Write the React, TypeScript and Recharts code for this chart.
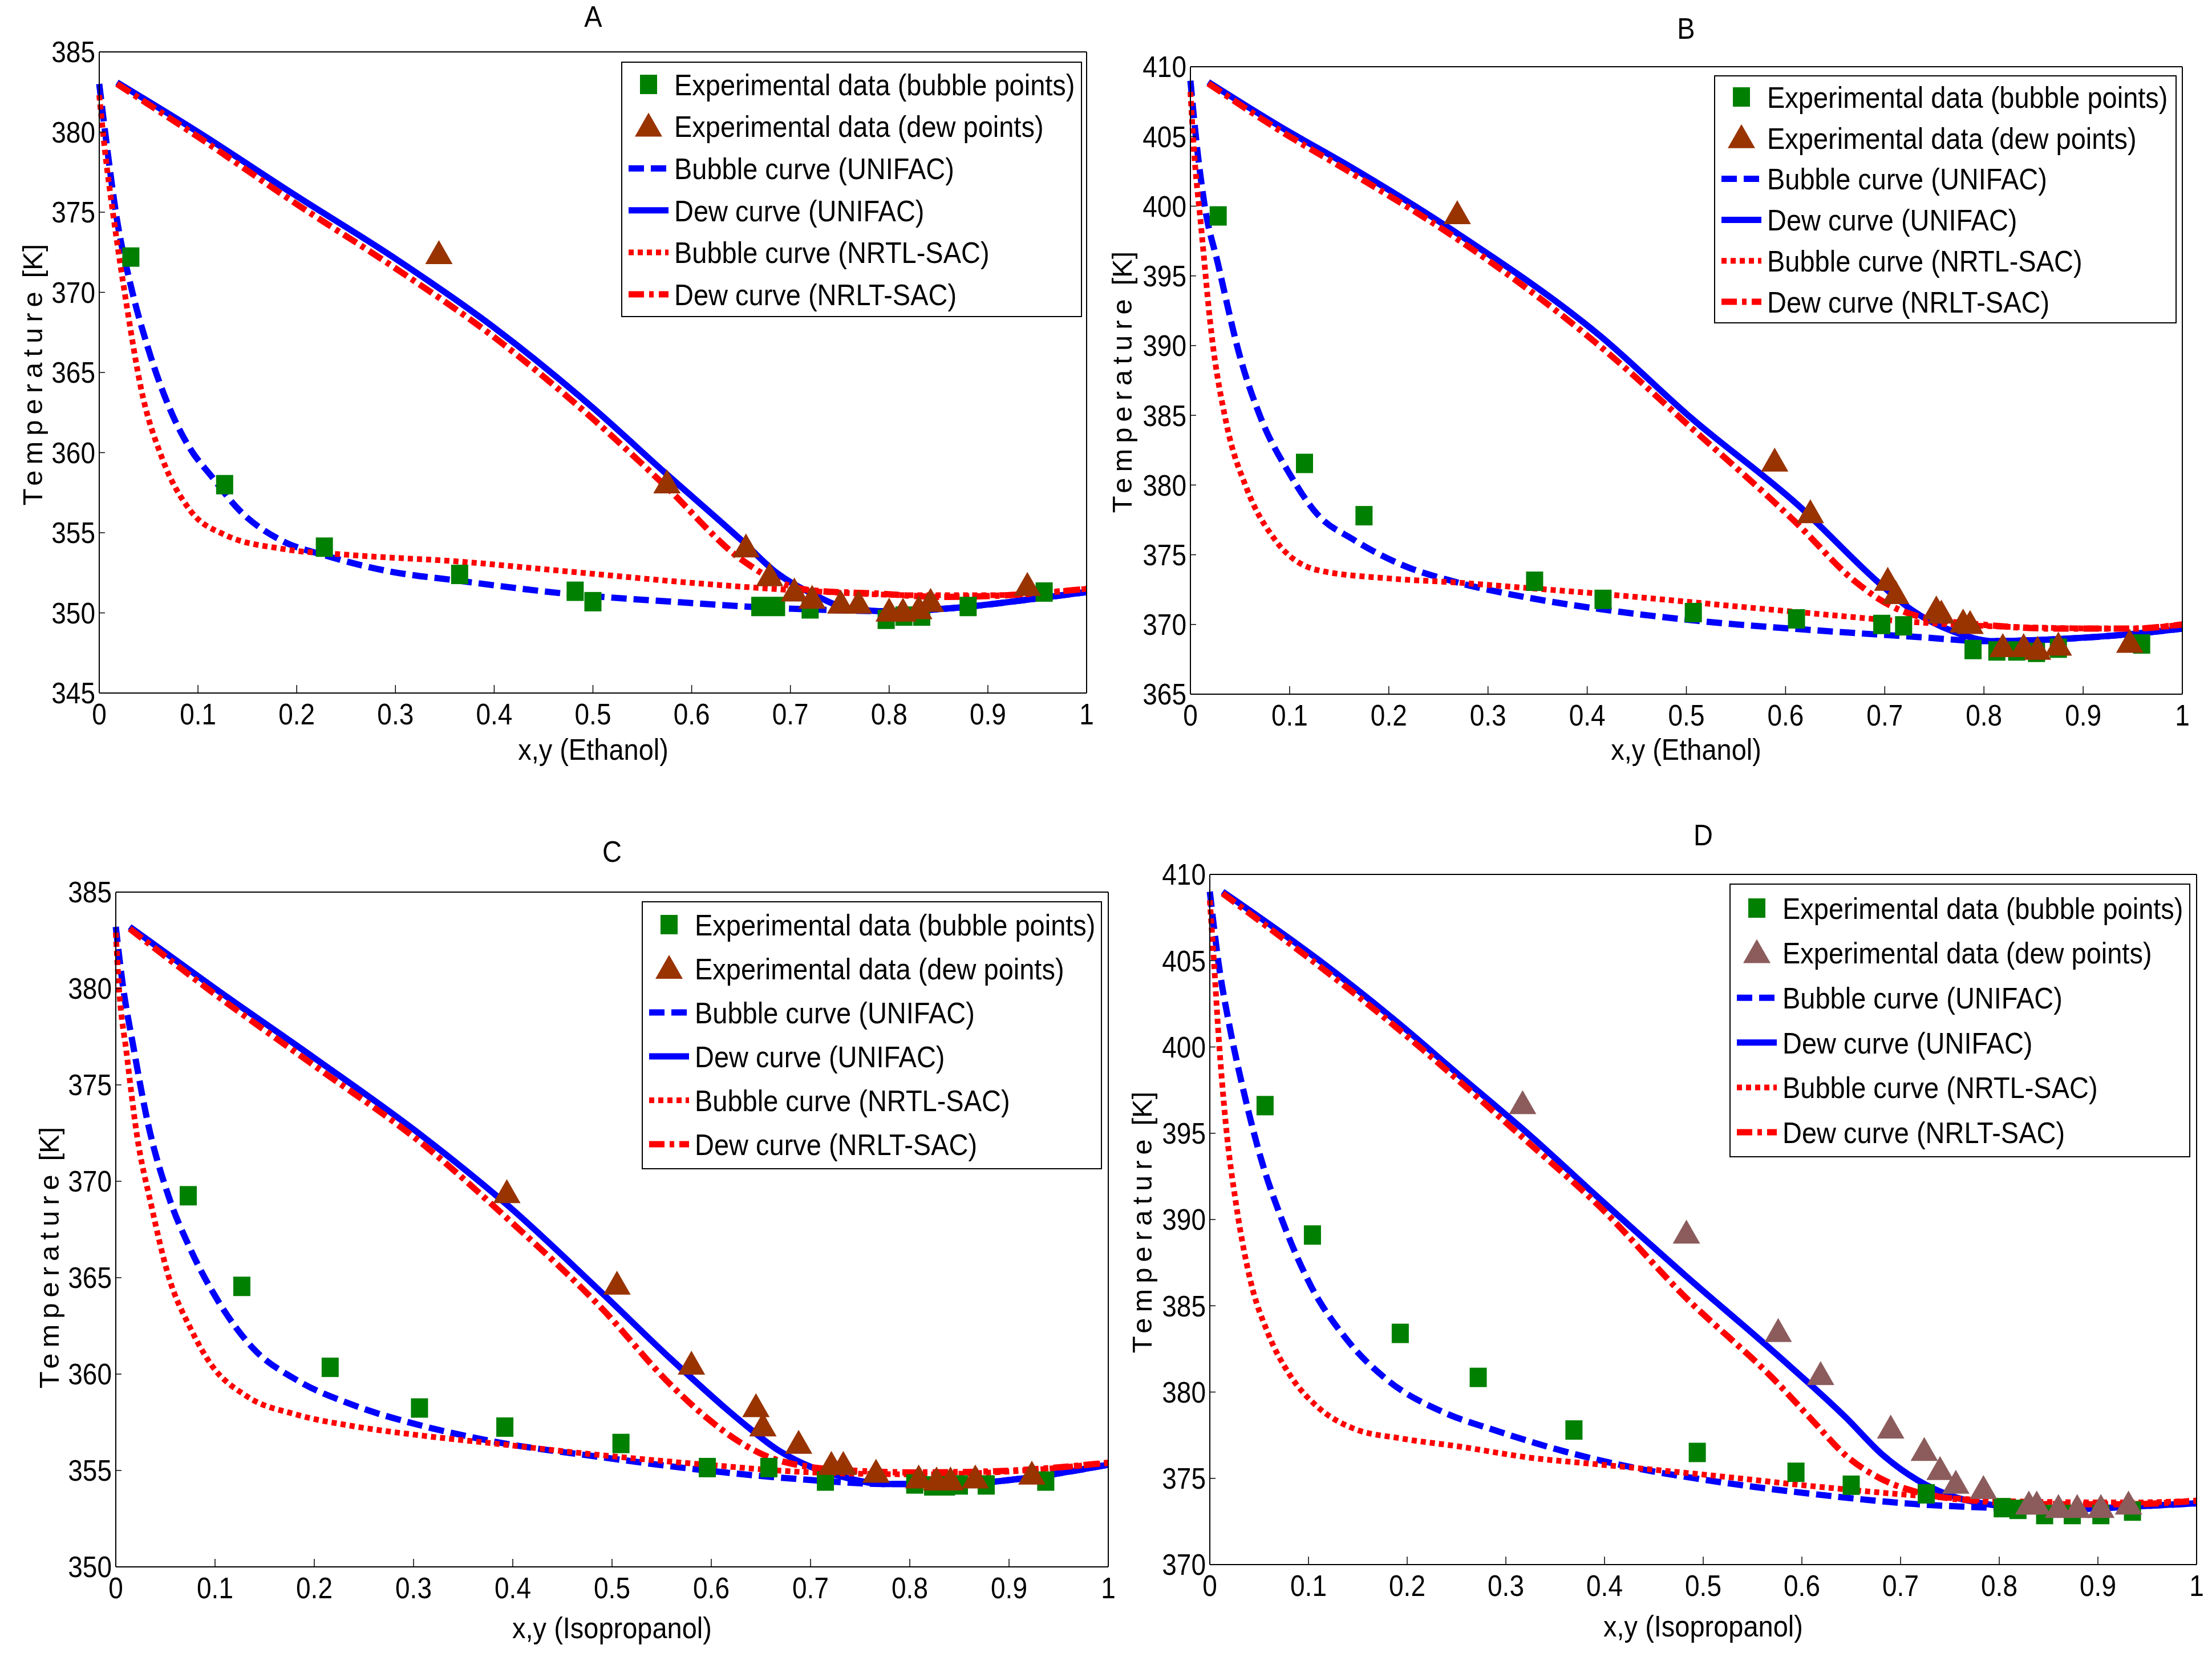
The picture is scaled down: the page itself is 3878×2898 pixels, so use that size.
import React from "react";
import { ComposedChart, Line, Scatter, XAxis, YAxis, Legend, Label } from "recharts";

const FONT = "'Liberation Sans', Arial, Helvetica, sans-serif";
const STRETCH = 1.12;

type Pt = [number, number];

const X_TICKS = [0, 0.1, 0.2, 0.3, 0.4, 0.5, 0.6, 0.7, 0.8, 0.9, 1];
const A_Y_TICKS = [345, 350, 355, 360, 365, 370, 375, 380, 385];
const B_Y_TICKS = [365, 370, 375, 380, 385, 390, 395, 400, 405, 410];
const C_Y_TICKS = [350, 355, 360, 365, 370, 375, 380, 385];
const D_Y_TICKS = [370, 375, 380, 385, 390, 395, 400, 405, 410];

const LEGEND_LABELS = [
  "Experimental data (bubble points)",
  "Experimental data (dew points)",
  "Bubble curve (UNIFAC)",
  "Dew curve (UNIFAC)",
  "Bubble curve (NRTL-SAC)",
  "Dew curve (NRLT-SAC)",
];

// ---- A: ethanol ----
const A_BUBBLE_EXP: Pt[] = [[0.032, 372.2], [0.127, 358.0], [0.228, 354.1], [0.365, 352.4], [0.482, 351.35], [0.5, 350.7], [0.669, 350.4], [0.686, 350.4], [0.72, 350.25], [0.797, 349.6], [0.815, 349.8], [0.833, 349.8], [0.88, 350.4], [0.957, 351.3]];
const A_DEW_EXP: Pt[] = [[0.344, 372.4], [0.575, 358.1], [0.655, 354.1], [0.679, 352.3], [0.704, 351.35], [0.722, 350.9], [0.751, 350.6], [0.769, 350.6], [0.8, 350.1], [0.814, 350.1], [0.83, 350.25], [0.842, 350.7], [0.94, 351.7]];
const A_BUBBLE_UNIFAC: Pt[] = [[0, 383.0], [0.008, 379.0], [0.017, 374.9], [0.032, 370.4], [0.049, 366.6], [0.071, 362.8], [0.092, 360.25], [0.114, 358.5], [0.142, 356.4], [0.185, 354.5], [0.228, 353.6], [0.293, 352.6], [0.365, 352.0], [0.472, 351.2], [0.579, 350.7], [0.686, 350.3], [0.758, 350.15], [0.8, 350.1], [0.865, 350.3], [0.937, 350.8], [1.0, 351.3]];
const A_DEW_UNIFAC: Pt[] = [[0.018, 383.1], [0.1, 380.0], [0.2, 376.0], [0.3, 372.1], [0.4, 367.8], [0.5, 362.8], [0.572, 358.8], [0.651, 354.5], [0.686, 352.5], [0.722, 351.2], [0.758, 350.3], [0.8, 350.1], [0.865, 350.3], [0.937, 350.8], [1.0, 351.3]];
const A_BUBBLE_NRTL: Pt[] = [[0, 382.3], [0.006, 378.7], [0.014, 374.9], [0.028, 369.1], [0.042, 364.1], [0.064, 359.6], [0.092, 356.4], [0.128, 354.85], [0.185, 354.0], [0.257, 353.6], [0.365, 353.2], [0.472, 352.6], [0.615, 351.8], [0.722, 351.35], [0.83, 351.1], [0.9, 351.1], [1.0, 351.5]];
const A_DEW_NRTL: Pt[] = [[0.018, 383.0], [0.1, 379.7], [0.2, 375.5], [0.3, 371.5], [0.4, 367.2], [0.5, 362.1], [0.572, 358.0], [0.651, 353.3], [0.686, 352.0], [0.722, 351.4], [0.79, 351.2], [0.85, 351.0], [0.9, 351.05], [1.0, 351.5]];

// ---- B: ethanol ----
const B_BUBBLE_EXP: Pt[] = [[0.028, 399.3], [0.115, 381.55], [0.175, 377.8], [0.347, 373.1], [0.416, 371.8], [0.507, 370.85], [0.611, 370.4], [0.697, 370.0], [0.719, 369.9], [0.789, 368.2], [0.813, 368.1], [0.833, 368.1], [0.853, 368.0], [0.875, 368.3], [0.959, 368.6]];
const B_DEW_EXP: Pt[] = [[0.269, 399.45], [0.589, 381.7], [0.625, 378.0], [0.703, 373.15], [0.711, 372.2], [0.752, 371.1], [0.757, 370.8], [0.779, 370.15], [0.786, 370.05], [0.819, 368.4], [0.84, 368.4], [0.854, 368.2], [0.875, 368.5], [0.947, 368.7]];
const B_BUBBLE_UNIFAC: Pt[] = [[0, 409.0], [0.007, 404.0], [0.014, 400.2], [0.028, 395.8], [0.05, 389.2], [0.071, 384.8], [0.1, 380.8], [0.128, 377.9], [0.164, 376.1], [0.214, 374.25], [0.27, 373.0], [0.342, 371.9], [0.413, 371.1], [0.52, 370.2], [0.626, 369.6], [0.733, 369.1], [0.804, 368.8], [0.875, 368.95], [0.947, 369.3], [1.0, 369.7]];
const B_DEW_UNIFAC: Pt[] = [[0.018, 408.9], [0.093, 405.6], [0.157, 403.0], [0.27, 398.0], [0.413, 390.7], [0.505, 384.8], [0.612, 378.6], [0.697, 372.8], [0.726, 371.1], [0.769, 369.5], [0.811, 368.8], [0.875, 368.95], [0.947, 369.3], [1.0, 369.7]];
const B_BUBBLE_NRTL: Pt[] = [[0, 408.2], [0.003, 404.6], [0.011, 398.35], [0.021, 391.0], [0.036, 384.5], [0.057, 379.7], [0.085, 376.1], [0.128, 373.9], [0.2, 373.3], [0.27, 373.0], [0.342, 372.6], [0.413, 372.2], [0.52, 371.5], [0.626, 370.8], [0.733, 370.15], [0.84, 369.8], [0.947, 369.7], [1.0, 370.0]];
const B_DEW_NRTL: Pt[] = [[0.018, 408.8], [0.093, 405.3], [0.157, 402.6], [0.27, 397.6], [0.413, 389.95], [0.505, 384.1], [0.612, 377.2], [0.669, 373.15], [0.697, 371.7], [0.733, 370.6], [0.804, 369.95], [0.875, 369.7], [0.947, 369.7], [1.0, 370.0]];

// ---- C: isopropanol ----
const C_BUBBLE_EXP: Pt[] = [[0.073, 369.25], [0.127, 364.55], [0.216, 360.35], [0.306, 358.24], [0.392, 357.25], [0.509, 356.4], [0.596, 355.15], [0.658, 355.15], [0.715, 354.45], [0.805, 354.3], [0.823, 354.2], [0.837, 354.2], [0.85, 354.25], [0.877, 354.25], [0.937, 354.45]];
const C_DEW_EXP: Pt[] = [[0.394, 369.4], [0.505, 364.65], [0.58, 360.5], [0.645, 358.3], [0.652, 357.3], [0.688, 356.4], [0.721, 355.3], [0.733, 355.3], [0.766, 354.9], [0.809, 354.6], [0.827, 354.5], [0.841, 354.5], [0.866, 354.6], [0.923, 354.8]];
const C_BUBBLE_UNIFAC: Pt[] = [[0, 383.2], [0.007, 380.2], [0.018, 376.9], [0.032, 373.1], [0.053, 369.25], [0.075, 366.5], [0.103, 363.8], [0.139, 361.3], [0.182, 359.7], [0.239, 358.4], [0.31, 357.3], [0.381, 356.5], [0.488, 355.7], [0.595, 355.0], [0.702, 354.5], [0.773, 354.3], [0.845, 354.3], [0.916, 354.6], [1.0, 355.3]];
const C_DEW_UNIFAC: Pt[] = [[0.014, 383.2], [0.1, 380.0], [0.2, 376.4], [0.31, 372.3], [0.396, 368.7], [0.488, 364.3], [0.56, 360.75], [0.631, 357.5], [0.666, 356.1], [0.702, 355.15], [0.738, 354.6], [0.773, 354.3], [0.845, 354.3], [0.916, 354.6], [1.0, 355.3]];
const C_BUBBLE_NRTL: Pt[] = [[0, 382.9], [0.003, 380.2], [0.011, 376.6], [0.021, 372.5], [0.036, 368.7], [0.053, 365.1], [0.075, 362.4], [0.096, 360.5], [0.132, 358.85], [0.182, 357.9], [0.239, 357.3], [0.31, 356.8], [0.381, 356.4], [0.488, 355.8], [0.595, 355.3], [0.702, 354.9], [0.809, 354.8], [0.916, 355.0], [1.0, 355.4]];
const C_DEW_NRTL: Pt[] = [[0.014, 383.1], [0.1, 379.7], [0.2, 376.0], [0.31, 371.9], [0.396, 368.0], [0.488, 363.5], [0.56, 359.4], [0.595, 357.75], [0.631, 356.4], [0.666, 355.55], [0.738, 355.0], [0.809, 354.9], [0.88, 354.95], [1.0, 355.4]];

// ---- D: isopropanol ----
const D_BUBBLE_EXP: Pt[] = [[0.056, 396.6], [0.104, 389.1], [0.193, 383.4], [0.272, 380.85], [0.369, 377.8], [0.494, 376.5], [0.594, 375.35], [0.65, 374.6], [0.726, 374.1], [0.803, 373.3], [0.819, 373.2], [0.846, 372.9], [0.874, 372.9], [0.903, 372.9], [0.935, 373.1]];
const D_DEW_EXP: Pt[] = [[0.317, 396.7], [0.483, 389.2], [0.576, 383.5], [0.619, 381.0], [0.69, 377.9], [0.724, 376.6], [0.74, 375.5], [0.756, 374.7], [0.784, 374.4], [0.83, 373.5], [0.838, 373.5], [0.86, 373.3], [0.879, 373.3], [0.903, 373.3], [0.931, 373.5]];
const D_BUBBLE_UNIFAC: Pt[] = [[0, 409.0], [0.009, 404.8], [0.02, 401.2], [0.034, 397.5], [0.052, 393.5], [0.074, 389.85], [0.102, 386.2], [0.138, 383.1], [0.181, 380.65], [0.238, 378.8], [0.288, 377.8], [0.36, 376.55], [0.431, 375.6], [0.503, 374.9], [0.61, 374.1], [0.717, 373.5], [0.788, 373.3], [0.86, 373.2], [0.931, 373.35], [1.0, 373.55]];
const D_DEW_UNIFAC: Pt[] = [[0.013, 409.0], [0.109, 405.1], [0.195, 401.2], [0.252, 398.4], [0.324, 394.9], [0.395, 391.2], [0.481, 386.8], [0.574, 382.2], [0.645, 378.5], [0.681, 376.4], [0.717, 374.9], [0.753, 373.95], [0.788, 373.5], [0.824, 373.3], [0.86, 373.2], [0.931, 373.35], [1.0, 373.55]];
const D_BUBBLE_NRTL: Pt[] = [[0, 408.5], [0.004, 405.1], [0.009, 400.55], [0.016, 395.65], [0.027, 390.75], [0.041, 386.5], [0.059, 383.4], [0.081, 381.0], [0.109, 379.15], [0.145, 377.9], [0.195, 377.3], [0.252, 376.85], [0.324, 376.2], [0.395, 375.8], [0.503, 375.2], [0.61, 374.55], [0.717, 374.0], [0.824, 373.65], [0.931, 373.6], [1.0, 373.7]];
const D_DEW_NRTL: Pt[] = [[0.013, 408.9], [0.195, 400.85], [0.324, 394.4], [0.395, 390.75], [0.481, 385.55], [0.574, 380.6], [0.61, 378.4], [0.645, 376.3], [0.681, 374.95], [0.717, 374.2], [0.788, 373.65], [0.86, 373.5], [0.931, 373.5], [1.0, 373.7]];

const rows = (pts: Pt[]) => pts.map(([x, t]) => ({ x, t }));

const GREEN = "#008000";
const BROWN = "#993300";
const MAUVE = "#8c5c5c";
const BLUE = "#0000ff";
const RED = "#ff0000";
const DASH = "27 12";
const DOT = "9 7";
const DASHDOT = "27 9 8 9";
const LW = 11;

// text with MATLAB-like vertical stretch
function SText({ x, y, size, anchor = "middle", valign = "middle", children }: any) {
  const dy = valign === "top" ? 0.716 * size : 0.358 * size;
  return (
    <g transform={`translate(${x},${y}) scale(1,${STRETCH})`}>
      <text x={0} y={dy} fontSize={size} textAnchor={anchor} fontFamily={FONT} fill="#000">
        {children}
      </text>
    </g>
  );
}

const XTick = (p: any) => (
  <SText x={p.x} y={p.y} size={46} valign="top">
    {String(Math.round(p.payload.value * 10) / 10)}
  </SText>
);
const YTick = (p: any) => (
  <SText x={p.x} y={p.y} size={46} anchor="end">
    {p.payload.value}
  </SText>
);

const squareShape = (p: any) => (
  <rect x={p.cx - 15} y={p.cy - 17} width={30} height={34} fill={GREEN} />
);
const triShape = (color: string) => (p: any) => (
  <polygon
    points={`${p.cx},${p.cy - 24} ${p.cx - 24},${p.cy + 18} ${p.cx + 24},${p.cy + 18}`}
    fill={color}
  />
);

function LegendBox({ box, dewColor }: any) {
  const samples = [
    (cy: number) => <rect x={33} y={cy - 17} width={30} height={34} fill={GREEN} />,
    (cy: number) => <polygon points={`48,${cy - 24} 24,${cy + 18} 72,${cy + 18}`} fill={dewColor} />,
    (cy: number) => <line x1={13} x2={83} y1={cy} y2={cy} stroke={BLUE} strokeWidth={LW} strokeDasharray={DASH} />,
    (cy: number) => <line x1={13} x2={83} y1={cy} y2={cy} stroke={BLUE} strokeWidth={LW} />,
    (cy: number) => <line x1={13} x2={83} y1={cy} y2={cy} stroke={RED} strokeWidth={LW - 1} strokeDasharray={DOT} />,
    (cy: number) => <line x1={13} x2={83} y1={cy} y2={cy} stroke={RED} strokeWidth={LW} strokeDasharray={DASHDOT} />,
  ];
  return (
    <svg width={box.width} height={box.height} style={{ display: "block" }}>
      <rect x={1} y={1} width={box.width - 2} height={box.height - 2} fill="#fff" stroke="#000" strokeWidth={2} />
      {LEGEND_LABELS.map((label, i) => {
        const cy = box.rowStart + i * box.rowStep;
        return (
          <g key={label}>
            {samples[i](cy)}
            <SText x={93} y={cy} size={47} anchor="start">
              {label}
            </SText>
          </g>
        );
      })}
    </svg>
  );
}

function Panel(cfg: any) {
  const { left, top, width, height, margin, domain, yTicks } = cfg;
  return (
    <div style={{ position: "absolute", left, top }}>
      <ComposedChart width={width} height={height} margin={margin}>
        <XAxis
          dataKey="x"
          type="number"
          domain={[0, 1]}
          ticks={X_TICKS}
          interval={0}
          height={60}
          tickSize={-14}
          tickMargin={32}
          tick={XTick}
          axisLine={{ stroke: "#000", strokeWidth: 2 }}
          tickLine={{ stroke: "#000", strokeWidth: 1.5 }}
        >
          <Label
            content={() => (
              <g>
                <SText x={cfg.title.x} y={cfg.title.y} size={47}>{cfg.title.text}</SText>
                <SText x={cfg.xLabel.x} y={cfg.xLabel.y} size={47}>{cfg.xLabel.text}</SText>
              </g>
            )}
          />
        </XAxis>
        <XAxis
          xAxisId="top"
          orientation="top"
          type="number"
          domain={[0, 1]}
          ticks={X_TICKS}
          interval={0}
          height={10}
          tickSize={-14}
          tick={false}
          axisLine={{ stroke: "#000", strokeWidth: 2 }}
          tickLine={{ stroke: "#000", strokeWidth: 1.5 }}
        />
        <YAxis
          dataKey="t"
          type="number"
          domain={domain}
          ticks={yTicks}
          interval={0}
          width={100}
          tickSize={-10}
          tickMargin={17}
          tick={YTick}
          axisLine={{ stroke: "#000", strokeWidth: 2 }}
          tickLine={{ stroke: "#000", strokeWidth: 1.5 }}
        >
          <Label
            content={() => (
              <text
                transform={`translate(${cfg.yLabel.x + 18},${cfg.yLabel.y}) rotate(-90)`}
                textAnchor="middle"
                fontSize={49}
                fontFamily={FONT}
                fill="#000"
              >
                <tspan letterSpacing={10}>Temperature</tspan>
                <tspan> [K]</tspan>
              </text>
            )}
          />
        </YAxis>
        <YAxis
          yAxisId="right"
          orientation="right"
          type="number"
          domain={domain}
          ticks={yTicks}
          interval={0}
          width={10}
          tickSize={-10}
          tick={false}
          axisLine={{ stroke: "#000", strokeWidth: 2 }}
          tickLine={{ stroke: "#000", strokeWidth: 1.5 }}
        />
        <Legend
          layout="horizontal"
          align="center"
          verticalAlign="middle"
          wrapperStyle={{
            position: "absolute",
            left: cfg.legend.left,
            top: cfg.legend.top,
            width: cfg.legend.width,
            height: cfg.legend.height,
          }}
          content={() => <LegendBox box={cfg.legend} dewColor={cfg.dewColor} />}
        />
        <Scatter data={rows(cfg.bubbleExp)} dataKey="t" shape={squareShape} isAnimationActive={false} />
        <Scatter data={rows(cfg.dewExp)} dataKey="t" shape={triShape(cfg.dewColor)} isAnimationActive={false} />
        <Line data={rows(cfg.bubbleUnifac)} dataKey="t" type="monotone" stroke={BLUE} strokeWidth={LW} strokeDasharray={DASH} dot={false} activeDot={false} isAnimationActive={false} />
        <Line data={rows(cfg.dewUnifac)} dataKey="t" type="monotone" stroke={BLUE} strokeWidth={LW} dot={false} activeDot={false} isAnimationActive={false} />
        <Line data={rows(cfg.bubbleNrtl)} dataKey="t" type="monotone" stroke={RED} strokeWidth={LW - 1} strokeDasharray={DOT} dot={false} activeDot={false} isAnimationActive={false} />
        <Line data={rows(cfg.dewNrtl)} dataKey="t" type="monotone" stroke={RED} strokeWidth={LW} strokeDasharray={DASHDOT} dot={false} activeDot={false} isAnimationActive={false} />
      </ComposedChart>
    </div>
  );
}

export default function App() {
  return (
    <div style={{ position: "absolute", left: 0, top: 0, width: 3878, height: 2898, background: "#fff", overflow: "hidden" }}>
      <Panel
        left={0} top={0} width={1960} height={1420}
        margin={{ left: 74, right: 45, top: 81, bottom: 145 }}
        domain={[345, 385]} yTicks={A_Y_TICKS}
        title={{ text: "A", x: 1040, y: 28 }}
        xLabel={{ text: "x,y (Ethanol)", x: 1040, y: 1313 }}
        yLabel={{ x: 56, y: 657 }}
        legend={{ left: 1089, top: 108, width: 808, height: 448, rowStart: 40, rowStep: 73.6 }}
        dewColor={BROWN}
        bubbleExp={A_BUBBLE_EXP} dewExp={A_DEW_EXP}
        bubbleUnifac={A_BUBBLE_UNIFAC} dewUnifac={A_DEW_UNIFAC}
        bubbleNrtl={A_BUBBLE_NRTL} dewNrtl={A_DEW_NRTL}
      />
      <Panel
        left={1940} top={0} width={1938} height={1420}
        margin={{ left: 47, right: 42, top: 107, bottom: 143 }}
        domain={[365, 410]} yTicks={B_Y_TICKS}
        title={{ text: "B", x: 1016, y: 49 }}
        xLabel={{ text: "x,y (Ethanol)", x: 1016, y: 1313 }}
        yLabel={{ x: 26, y: 670 }}
        legend={{ left: 1065, top: 132, width: 811, height: 435, rowStart: 38, rowStep: 71.8 }}
        dewColor={BROWN}
        bubbleExp={B_BUBBLE_EXP} dewExp={B_DEW_EXP}
        bubbleUnifac={B_BUBBLE_UNIFAC} dewUnifac={B_DEW_UNIFAC}
        bubbleNrtl={B_BUBBLE_NRTL} dewNrtl={B_DEW_NRTL}
      />
      <Panel
        left={0} top={1440} width={1960} height={1458}
        margin={{ left: 103, right: 7, top: 114, bottom: 91 }}
        domain={[350, 385]} yTicks={C_Y_TICKS}
        title={{ text: "C", x: 1073, y: 52 }}
        xLabel={{ text: "x,y (Isopropanol)", x: 1073, y: 1413 }}
        yLabel={{ x: 85, y: 765 }}
        legend={{ left: 1125, top: 140, width: 807, height: 470, rowStart: 41, rowStep: 77 }}
        dewColor={BROWN}
        bubbleExp={C_BUBBLE_EXP} dewExp={C_DEW_EXP}
        bubbleUnifac={C_BUBBLE_UNIFAC} dewUnifac={C_DEW_UNIFAC}
        bubbleNrtl={C_BUBBLE_NRTL} dewNrtl={C_DEW_NRTL}
      />
      <Panel
        left={1940} top={1420} width={1938} height={1478}
        margin={{ left: 81, right: 17, top: 103, bottom: 95 }}
        domain={[370, 410]} yTicks={D_Y_TICKS}
        title={{ text: "D", x: 1046, y: 43 }}
        xLabel={{ text: "x,y (Isopropanol)", x: 1046, y: 1430 }}
        yLabel={{ x: 61, y: 723 }}
        legend={{ left: 1092, top: 129, width: 808, height: 480, rowStart: 43, rowStep: 78.6 }}
        dewColor={MAUVE}
        bubbleExp={D_BUBBLE_EXP} dewExp={D_DEW_EXP}
        bubbleUnifac={D_BUBBLE_UNIFAC} dewUnifac={D_DEW_UNIFAC}
        bubbleNrtl={D_BUBBLE_NRTL} dewNrtl={D_DEW_NRTL}
      />
    </div>
  );
}
